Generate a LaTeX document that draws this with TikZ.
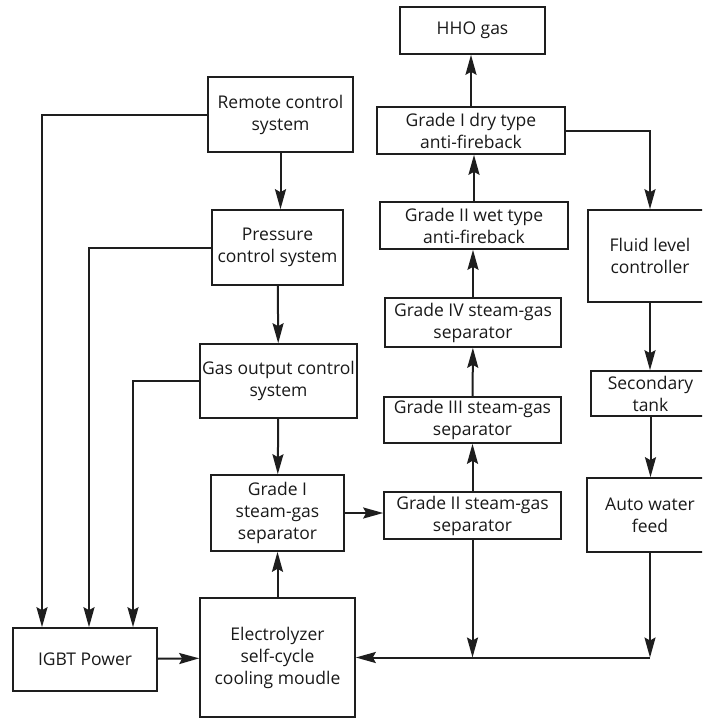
\documentclass[tikz,border=0pt]{standalone}
\usepackage{fontspec}
\setmainfont{Open Sans}
\usetikzlibrary{arrows.meta,positioning,calc}
\definecolor{linecolor}{RGB}{30,30,30}

\begin{document}
\begin{tikzpicture}[
    x=1pt, y=-1pt,
    box/.style={rectangle, draw=linecolor, line width=1.6pt, inner sep=0pt, align=center,
                font=\fontsize{17.5}{22}\selectfont, text=black!90},
    arr/.style={-{Stealth[length=20pt,width=11pt,inset=3pt]}, line width=2pt, draw=linecolor},
]
    \useasboundingbox (0,0) rectangle (702,718);
    \clip (0,0) rectangle (702,718);

    % Control chain
    \node[box, minimum width=145pt, minimum height=75pt] (remote) at (280.5,114.5) {Remote control\\system};
    \node[box, minimum width=131pt, minimum height=75pt] (pressure) at (277.5,247.5) {Pressure\\control system};
    \node[box, minimum width=157pt, minimum height=74pt] (gasout) at (278.5,381) {Gas output control\\system};
    \node[box, minimum width=133pt, minimum height=76pt] (sepone) at (277.5,513) {Grade I\\steam-gas\\separator};
    \node[box, minimum width=155pt, minimum height=119pt] (electro) at (277.5,657.5) {Electrolyzer\\self-cycle\\cooling moudle};
    \node[box, minimum width=144pt, minimum height=63pt] (igbt) at (85,659.5) {IGBT Power};

    % Gas chain
    \node[box, minimum width=145pt, minimum height=47pt] (hho) at (472.5,30.5) {HHO gas};
    \node[box, minimum width=188pt, minimum height=47pt] (dry) at (471,130.5) {Grade I dry type\\anti-fireback};
    \node[box, minimum width=188pt, minimum height=47pt] (wet) at (474,225.5) {Grade II wet type\\anti-fireback};
    \node[box, minimum width=176pt, minimum height=49pt] (sepfour) at (473,322.5) {Grade IV steam-gas\\separator};
    \node[box, minimum width=177pt, minimum height=46pt] (septhree) at (472.5,420) {Grade III steam-gas\\separator};
    \node[box, minimum width=177pt, minimum height=47pt] (septwo) at (472.5,515.5) {Grade II steam-gas\\separator};

    % Water chain
    \node[box, minimum width=124pt, minimum height=92pt] (fluid) at (650,256) {Fluid level\\controller};
    \node[box, minimum width=119pt, minimum height=45pt] (tank) at (650.5,393.5) {Secondary\\tank};
    \node[box, minimum width=126pt, minimum height=74pt] (water) at (650,515) {Auto water\\feed};

    \coordinate (busL) at (septwo.south |- electro.east);
    \coordinate (busR) at (water.south |- electro.east);

    % Arrows
    \draw[arr] (remote.west) -| ([xshift=-43pt]igbt.north);
    \draw[arr] (pressure.west) -| ([xshift=4pt]igbt.north);
    \draw[arr] (gasout.west) -| ([xshift=48pt]igbt.north);

    \draw[arr] (remote.south) -- (remote.south |- pressure.north);
    \draw[arr] (pressure) -- (gasout);
    \draw[arr] (gasout) -- (sepone);
    \draw[arr] (electro) -- (sepone);
    \draw[arr] (igbt) -- (electro);
    \draw[arr] (sepone.east) -- (sepone.east -| septwo.west);

    \draw[arr] (septwo) -- (septhree);
    \draw[arr] (septhree) -- (sepfour);
    \draw[arr] (sepfour.north) -- (sepfour.north |- wet.south);
    \draw[arr] (wet.north) -- (wet.north |- dry.south);
    \draw[arr] (dry.north) -- (dry.north |- hho.south);

    \draw[arr] (dry.east) -| (fluid.north);
    \draw[arr] (fluid) -- (fluid.south |- tank.north);
    \draw[arr] (tank) -- (tank.south |- water.north);

    \draw[arr] (septwo.south) -- (busL);
    \draw[arr] (water.south) -- (busR);
    \draw[arr] (busR) -- (electro.east);
\end{tikzpicture}
\end{document}
